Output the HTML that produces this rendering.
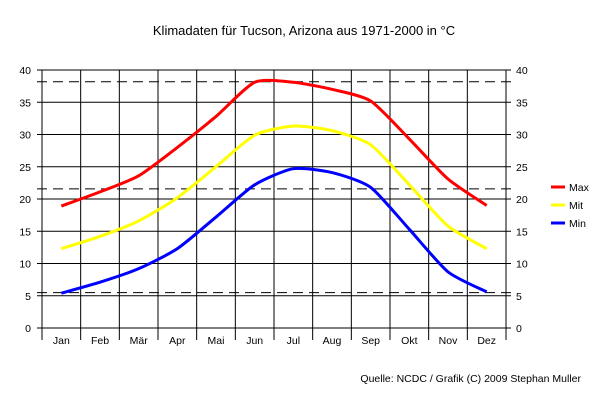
<!DOCTYPE html>
<html><head><meta charset="utf-8"><style>
html,body{margin:0;padding:0;background:#fff;}
svg{display:block;font-family:"Liberation Sans",Arial,sans-serif;}
</style></head><body>
<svg id="s" width="609" height="409" viewBox="0 0 609 409" xmlns="http://www.w3.org/2000/svg">
<rect width="609" height="409" fill="#fff"/>
<text x="304" y="35" font-size="13" text-anchor="middle" fill="#000">Klimadaten für Tucson, Arizona aus 1971-2000 in °C</text>
<g id="g"></g>
<text x="581" y="382" font-size="10.5" text-anchor="end" fill="#000">Quelle: NCDC / Grafik (C) 2009 Stephan Muller</text>
<line x1="551" y1="187" x2="565" y2="187" stroke="#f00" stroke-width="3"/>
<text x="569" y="191" font-size="10.5">Max</text>
<line x1="551" y1="205" x2="565" y2="205" stroke="#ff0" stroke-width="3"/>
<text x="569" y="209" font-size="10.5">Mit</text>
<line x1="551" y1="223" x2="565" y2="223" stroke="#00f" stroke-width="3"/>
<text x="569" y="227" font-size="10.5">Min</text>
</svg>
<script>
var g=document.getElementById('g'),h='';
var L=42,R=506,T=70,B=328,cw=(R-L)/12;
function Y(v){return B-v*(B-T)/40;}
for(var v=0;v<=40;v+=5){var y=Y(v);h+='<line x1="37" y1="'+y+'" x2="511" y2="'+y+'" stroke="#000" stroke-width="1"/>';
h+='<text x="31" y="'+(y+4)+'" font-size="10.5" text-anchor="end">'+v+'</text>';
h+='<text x="516" y="'+(y+4)+'" font-size="10.5">'+v+'</text>';}
var m=['Jan','Feb','Mär','Apr','Mai','Jun','Jul','Aug','Sep','Okt','Nov','Dez'];
for(var i=0;i<=12;i++){var x=L+i*cw;h+='<line x1="'+x+'" y1="'+T+'" x2="'+x+'" y2="340" stroke="#000" stroke-width="1"/>';}
for(var i=0;i<12;i++){h+='<text x="'+(L+(i+.5)*cw)+'" y="344" font-size="10.5" text-anchor="middle">'+m[i]+'</text>';}
[38.1,21.5,5.4].forEach(function(v){var y=Y(v)-0.5;h+='<line x1="37" y1="'+y+'" x2="511" y2="'+y+'" stroke="#000" stroke-width="1" stroke-dasharray="10,6"/>';});
function path(d,c){var p=d.map(function(v,i){return [L+(i+.5)*cw,Y(v)];});
var s='M'+p[0][0]+','+p[0][1],k=9;
for(var i=0;i<p.length-1;i++){var p0=p[Math.max(i-1,0)],p1=p[i],p2=p[i+1],p3=p[Math.min(i+2,p.length-1)];
s+=' C'+(p1[0]+(p2[0]-p0[0])/k)+','+(p1[1]+(p2[1]-p0[1])/k)+' '+(p2[0]-(p3[0]-p1[0])/k)+','+(p2[1]-(p3[1]-p1[1])/k)+' '+p2[0]+','+p2[1];}
return '<path d="'+s+'" fill="none" stroke="'+c+'" stroke-width="3"/>';}
h+=path([18.9,21.1,23.6,28,32.8,38.1,38.1,37,35.2,29.3,23.1,19],'#f00');
h+=path([12.3,14.2,16.6,20.2,25,29.9,31.3,30.6,28.4,22.2,15.8,12.3],'#ff0');
h+=path([5.4,7.1,9.2,12.3,17.2,22.2,24.7,24.1,21.8,15.3,8.7,5.6],'#00f');
g.innerHTML=h;
</script>
</body></html>
